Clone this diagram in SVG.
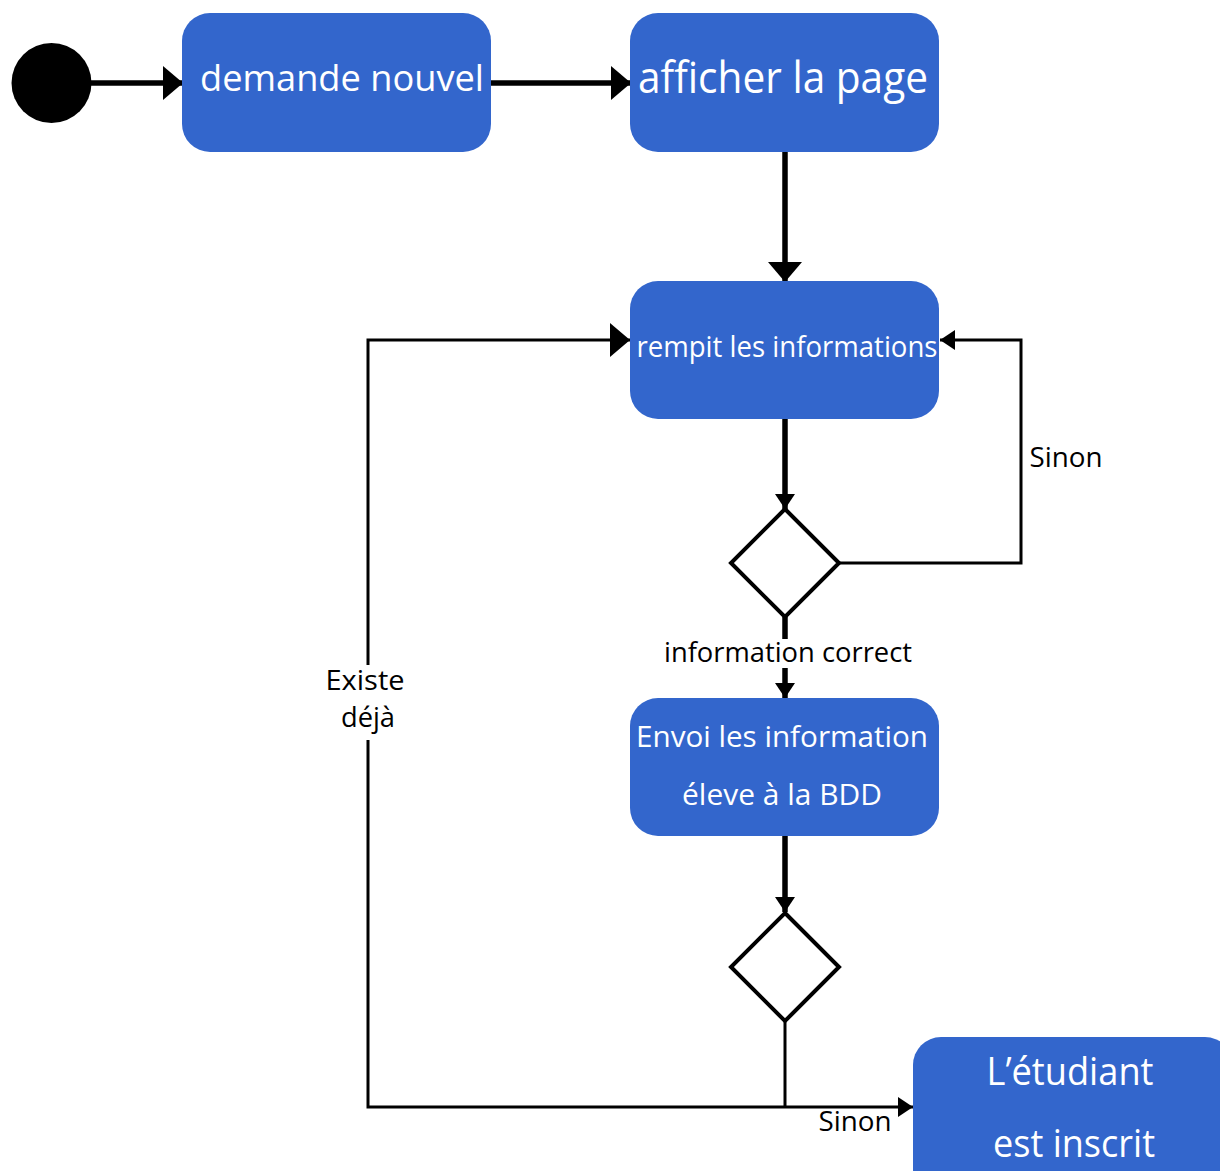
<svg xmlns="http://www.w3.org/2000/svg" width="1220" height="1171" viewBox="0 0 1220 1171">
<style>
.box{fill:#3366CC;}
.t{font-family:"Open Sans","Noto Sans","Liberation Sans",sans-serif;fill:#ffffff;text-anchor:middle;}
.lbl{font-family:"Open Sans","Noto Sans","Liberation Sans",sans-serif;fill:#000000;text-anchor:middle;}
.thick{stroke:#000;stroke-width:5.5;fill:none;}
.thin{stroke:#000;stroke-width:3;fill:none;}
.dia{stroke:#000;stroke-width:4;fill:#ffffff;}
</style>
<defs>
<marker id="big" markerUnits="userSpaceOnUse" markerWidth="20" markerHeight="34" refX="20" refY="17" orient="auto">
<path d="M0,0 L20,17 L0,34 z" fill="#000"/>
</marker>
<marker id="small" markerUnits="userSpaceOnUse" markerWidth="15" markerHeight="20" refX="15" refY="10" orient="auto">
<path d="M0,0 L15,10 L0,20 z" fill="#000"/>
</marker>
</defs>
<rect width="1220" height="1171" fill="#ffffff"/>
<g id="connectors">
<line class="thick" x1="90" y1="83" x2="183" y2="83" marker-end="url(#big)"/>
<line class="thick" x1="491" y1="83" x2="631" y2="83" marker-end="url(#big)"/>
<line class="thick" x1="785" y1="152" x2="785" y2="282" marker-end="url(#big)"/>
<line class="thick" x1="785" y1="419" x2="785" y2="509" marker-end="url(#small)"/>
<polyline class="thin" points="839,563 1021,563 1021,340 940,340" marker-end="url(#small)"/>
<line class="thick" x1="785" y1="617" x2="785" y2="639"/>
<line class="thick" x1="785" y1="668" x2="785" y2="698" marker-end="url(#small)"/>
<line class="thick" x1="785" y1="836" x2="785" y2="912" marker-end="url(#small)"/>
<line class="thin" x1="785" y1="1021" x2="785" y2="1107"/>
<polyline class="thin" points="368,665 368,340 630,340" marker-end="url(#big)"/>
<polyline class="thin" points="368,740 368,1107 913,1107" marker-end="url(#small)"/>
<text class="lbl" x="1066" y="467" font-size="27" textLength="73" lengthAdjust="spacingAndGlyphs">Sinon</text>
<text class="lbl" x="788" y="662" font-size="27" textLength="248" lengthAdjust="spacingAndGlyphs">information correct</text>
<text class="lbl" x="365" y="690" font-size="28" textLength="79" lengthAdjust="spacingAndGlyphs">Existe</text>
<text class="lbl" x="368" y="727" font-size="28" textLength="54" lengthAdjust="spacingAndGlyphs">déjà</text>
<text class="lbl" x="855" y="1131" font-size="27" textLength="73" lengthAdjust="spacingAndGlyphs">Sinon</text>
</g>
<g id="start">
<circle cx="51.5" cy="83" r="40" fill="#000"/>
</g>
<g id="n1">
<rect class="box" x="182" y="13" width="309" height="139" rx="28"/>
<text class="t" x="342" y="91" font-size="37" textLength="284" lengthAdjust="spacingAndGlyphs">demande nouvel</text>
</g>
<g id="n2">
<rect class="box" x="630" y="13" width="309" height="139" rx="28"/>
<text class="t" x="783" y="93" font-size="44" textLength="290" lengthAdjust="spacingAndGlyphs">afficher la page</text>
</g>
<g id="n3">
<rect class="box" x="630" y="281" width="309" height="138" rx="28"/>
<text class="t" x="787" y="357" font-size="30" textLength="301" lengthAdjust="spacingAndGlyphs">rempit les informations</text>
</g>
<g id="d1">
<polygon class="dia" points="785,509 839,563 785,617 731,563"/>
</g>
<g id="n4">
<rect class="box" x="630" y="698" width="309" height="138" rx="28"/>
<text class="t" x="782" y="747" font-size="30" textLength="292" lengthAdjust="spacingAndGlyphs">Envoi les information</text>
<text class="t" x="782" y="805" font-size="30" textLength="200" lengthAdjust="spacingAndGlyphs">éleve à la BDD</text>
</g>
<g id="d2">
<polygon class="dia" points="785,913 839,967 785,1021 731,967"/>
</g>
<g id="n5">
<rect class="box" x="913" y="1037" width="320" height="160" rx="28"/>
<text class="t" x="1070" y="1085" font-size="38" textLength="167" lengthAdjust="spacingAndGlyphs">L’étudiant</text>
<text class="t" x="1074" y="1157" font-size="38" textLength="162" lengthAdjust="spacingAndGlyphs">est inscrit</text>
</g>
</svg>
